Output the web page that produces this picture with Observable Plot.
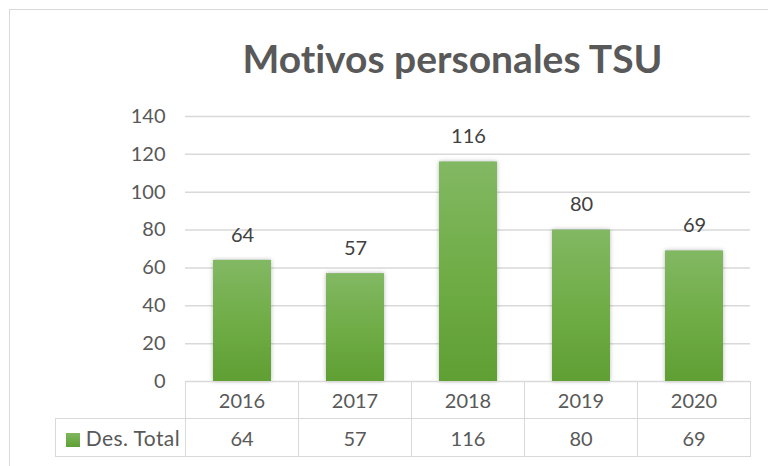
<!DOCTYPE html>
<html>
<head>
<meta charset="utf-8">
<script src="https://cdn.jsdelivr.net/npm/d3@7"></script>
<script src="https://cdn.jsdelivr.net/npm/@observablehq/plot@0.6"></script>
<style>
  html, body { margin: 0; padding: 0; background: #fff; }
  #wrap { position: relative; width: 768px; height: 466px; overflow: hidden; background: #fff; font-family: Lato, "Open Sans", sans-serif; font-variant-ligatures: none; }
  #frame { position: absolute; left: 9px; top: 9px; width: 800px; height: 500px; border: 1.5px solid #d9d9d9; box-sizing: border-box; }
  #title { position: absolute; left: 0; width: 905px; top: 35px; text-align: center; font-weight: bold; font-size: 39px; color: #595959; font-variant-ligatures: none; font-feature-settings: "liga" 0, "clig" 0; }
  #chart { position: absolute; left: 0; top: 0; }
  #chart g[aria-label="bar"] rect { filter: drop-shadow(0px 0px 2px rgba(0,0,0,0.28)); }
  table { position: absolute; border-collapse: collapse; font-size: 20px; color: #595959; }
  td { border: 1.5px solid #d9d9d9; text-align: center; padding: 0; box-sizing: border-box; }
  td.head { font-size: 21px; letter-spacing: 0.4px; text-align: right; padding-right: 5px; }
  .sw { display: inline-block; width: 14px; height: 14px; background: linear-gradient(#7fb65f, #60a034); vertical-align: -1px; margin-right: 6px; }
</style>
</head>
<body>
<div id="wrap">
  <div id="frame"></div>
  <div id="title"></div>
  <div id="chart"></div>
</div>
<script>
const title = "Motivos personales TSU";
const seriesName = "Des. Total";
const years = ["2016", "2017", "2018", "2019", "2020"];
const values = [64, 57, 116, 80, 69];
const yTicks = [0, 20, 40, 60, 80, 100, 120, 140];

const data = years.map((y, i) => ({year: y, value: values[i]}));
document.getElementById("title").textContent = title;

const gradientDefs = () => {
  const ns = "http://www.w3.org/2000/svg";
  const g = document.createElementNS(ns, "g");
  const defs = document.createElementNS(ns, "defs");
  const lg = document.createElementNS(ns, "linearGradient");
  lg.setAttribute("id", "barGrad");
  lg.setAttribute("x1", "0"); lg.setAttribute("y1", "0");
  lg.setAttribute("x2", "0"); lg.setAttribute("y2", "1");
  [["0%", "#82b863"], ["50%", "#70ad47"], ["100%", "#5f9f33"]].forEach(([o, c]) => {
    const s = document.createElementNS(ns, "stop");
    s.setAttribute("offset", o); s.setAttribute("stop-color", c);
    lg.appendChild(s);
  });
  defs.appendChild(lg); g.appendChild(defs);
  return g;
};

const ML = 185, MR = 18, MT = 116, MB = 85, W = 768, H = 466;

const plot = Plot.plot({
  width: W, height: H,
  marginLeft: ML, marginRight: MR, marginTop: MT, marginBottom: MB,
  style: {fontFamily: "Lato, 'Open Sans', sans-serif", color: "#595959", background: "transparent"},
  x: {domain: years, paddingInner: 0.49, paddingOuter: 0.245, axis: null},
  y: {domain: [0, 140], axis: null},
  marks: [
    gradientDefs,
    Plot.ruleY(yTicks, {stroke: "#d9d9d9", strokeWidth: 1.5}),
    Plot.axisY({ticks: yTicks, tickSize: 0, tickPadding: 20, fontSize: 20, fill: "#595959", label: null}),
    Plot.barY(data, {x: "year", y: "value", fill: "url(#barGrad)"}),
    Plot.text(data, {x: "year", y: "value", text: d => String(d.value), dy: -25, fontSize: 20, fill: "#404040"})
  ]
});
document.getElementById("chart").appendChild(plot);

// Data table below the plot, aligned to the plot's columns
const step = (W - ML - MR) / years.length;
const table = document.createElement("table");
table.style.left = "55px";
table.style.top = (H - MB) + "px";
const r1 = document.createElement("tr");
const r2 = document.createElement("tr");
const blank = document.createElement("td");
blank.style.border = "none";
blank.style.width = (ML - 55) + "px";
blank.style.height = "37px";
r1.appendChild(blank);
const head = document.createElement("td");
head.className = "head";
head.style.width = (ML - 55) + "px";
head.style.height = "38px";
head.innerHTML = '<span class="sw"></span>' + seriesName;
r2.appendChild(head);
years.forEach((y, i) => {
  const a = document.createElement("td");
  a.textContent = y; a.style.width = step + "px";
  r1.appendChild(a);
  const b = document.createElement("td");
  b.textContent = String(values[i]); b.style.width = step + "px";
  r2.appendChild(b);
});
table.appendChild(r1); table.appendChild(r2);
document.getElementById("wrap").appendChild(table);
</script>
</body>
</html>
